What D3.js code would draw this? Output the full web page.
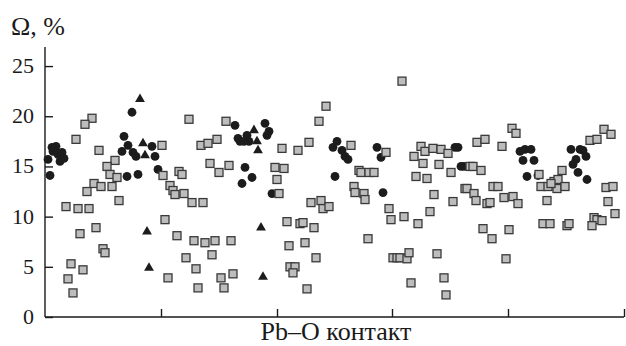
<!DOCTYPE html>
<html>
<head>
<meta charset="utf-8">
<script src="https://cdn.jsdelivr.net/npm/d3@7"></script>
<style>
  body { margin: 0; background: #fff; }
</style>
</head>
<body>
<div id="chart"></div>
<script>
// x = position along the contact axis (arbitrary units), y = Omega, %
const circleX = [3, 5, 7, 11, 8, 13, 17, 15, 19,
  87, 79, 83, 88, 91, 77, 82, 93, 107, 110, 113,
  190, 193, 195, 202, 204, 199, 220, 224, 222, 200, 207, 197, 227,
  288, 292, 297, 300, 303, 290, 332, 336, 338,
  410, 413, 416, 419,
  475, 480, 486, 478, 489, 482, 493,
  526, 535, 538, 541, 531, 528, 533, 542];
const circleY = [15.7, 14.1, 16.9, 17.0, 16.5, 16.2, 16.4, 15.5, 15.8,
  20.4, 18.0, 17.1, 16.4, 16.0, 16.5, 14.0, 14.2, 17.0, 16.0, 14.7,
  19.1, 17.8, 17.5, 18.1, 17.5, 17.5, 19.3, 18.5, 18.1, 14.9, 13.9, 13.3, 12.3,
  16.9, 17.5, 16.6, 16.0, 15.7, 14.0, 16.9, 15.9, 12.4,
  16.9, 16.9, 15.0, 15.0,
  16.5, 16.7, 16.7, 15.6, 15.6, 14.0, 14.1,
  16.7, 16.7, 16.6, 16.0, 15.7, 15.2, 14.4, 13.7];

const triangleX = [95, 98, 100, 102, 104, 209, 212, 213, 216, 218];
const triangleY = [21.7, 17.3, 16.1, 8.5, 4.9, 18.6, 17.5, 16.6, 8.9, 4.0];

const squareX = [47, 40, 31, 54, 70, 62, 65, 72, 49, 56, 42, 67, 74, 21, 33, 44, 51, 35, 58, 60, 26, 38, 23, 28,
  117, 144, 181, 156, 163, 172, 165, 174, 184, 118, 134, 137, 125, 128, 130, 139, 147, 158, 120, 132,
  149, 160, 170, 186, 141, 167, 151, 123, 176, 188, 153, 179,
  237, 253, 264, 274, 281, 230, 239, 232, 234, 266, 276, 278, 284, 242, 255, 258, 269, 244, 260, 271,
  245, 250, 248, 262,
  357, 306, 341, 314, 316, 324, 329, 309, 310, 319, 320, 344, 346, 359, 323, 348, 352, 355, 362, 364,
  366, 369, 376, 380, 388, 396, 403, 378, 394, 406, 371, 382, 389, 408, 385, 373, 392, 399, 401,
  432, 440, 457, 467, 471, 425, 428, 436, 420, 422, 429, 431, 442, 445, 448, 453, 459, 468, 473,
  438, 464, 447, 461,
  494, 496, 503, 509, 513, 512, 517, 520, 506, 502, 498, 505, 522, 524,
  545, 552, 559, 566, 561, 568, 563, 570, 549, 552, 557, 547];
const squareY = [19.8, 19.2, 17.7, 16.6, 15.6, 15.0, 14.2, 13.9, 13.3, 13.0, 12.5, 13.0, 11.6, 11.0, 10.8, 10.8,
  8.9, 8.3, 6.8, 6.4, 5.3, 4.7, 3.8, 2.4,
  17.1, 19.7, 19.5, 17.1, 17.3, 17.7, 15.3, 14.4, 15.1, 14.1, 14.5, 14.2, 13.1, 12.6, 12.2, 12.3, 11.4, 11.4,
  9.7, 8.1, 7.6, 7.4, 7.6, 7.6, 5.9, 6.2, 4.8, 3.9, 3.9, 4.3, 2.9, 2.9,
  16.8, 16.6, 17.4, 19.5, 21.0, 14.9, 14.8, 13.7, 12.3, 11.4, 11.6, 10.8, 11.0, 9.5, 9.3, 9.4, 8.9, 7.1, 7.4,
  5.9, 5.0, 5.0, 4.4, 2.8,
  23.5, 17.1, 16.4, 14.6, 14.4, 14.4, 14.4, 13.0, 12.4, 12.3, 11.7, 10.8, 9.7, 10.0, 7.8, 5.9, 5.9, 5.9, 5.8, 6.4,
  3.4, 16.0, 17.0, 16.5, 16.8, 16.7, 16.3, 15.3, 15.2, 14.4, 14.0, 13.8, 12.2, 11.5, 10.5, 9.3, 6.3, 3.9, 2.2,
  17.4, 17.7, 17.0, 18.8, 18.3, 15.0, 15.0, 14.6, 12.8, 12.8, 12.3, 11.6, 11.3, 11.4, 13.0, 13.0, 11.9, 12.0, 11.3,
  8.8, 8.7, 7.8, 5.8,
  14.2, 13.0, 13.0, 13.5, 13.7, 12.8, 14.6, 13.0, 13.3, 11.6, 9.3, 9.3, 9.1, 9.3,
  17.6, 17.7, 18.7, 18.2, 12.9, 13.0, 11.5, 10.3, 9.9, 9.7, 9.6, 9.1];

const yTicks = [0, 5, 10, 15, 20, 25];
const xTicks = [116, 232, 347, 463, 579];

const width = 626;
const height = 346;
const margin = { left: 45, right: 2, top: 47, bottom: 29 };
const serif = "'Liberation Serif', 'Times New Roman', 'DejaVu Serif', serif";

const svg = d3.select('#chart')
  .append('svg')
  .attr('width', width)
  .attr('height', height);

const x = d3.scaleLinear()
  .domain([0, 579])
  .range([margin.left, width - margin.right]);

const y = d3.scaleLinear()
  .domain([0, 26.9])
  .range([height - margin.bottom, margin.top]);

// axes, ticks pointing inside
const yAxis = svg.append('g')
  .attr('transform', `translate(${margin.left},0)`)
  .call(d3.axisRight(y).tickValues(yTicks).tickSize(8).tickFormat(''));
yAxis.select('.domain').attr('d', `M0,${y(0)}V${margin.top}`);

const xAxis = svg.append('g')
  .attr('transform', `translate(0,${height - margin.bottom})`)
  .call(d3.axisTop(x).tickValues(xTicks).tickSize(8).tickFormat(''));
xAxis.select('.domain').attr('d', `M${margin.left},0H${x(579)}`);

svg.selectAll('.domain, .tick line')
  .attr('stroke', '#1a1a1a')
  .attr('stroke-width', 1.4);

svg.selectAll('.ylab')
  .data(yTicks)
  .enter()
  .append('text')
  .attr('x', 34)
  .attr('y', d => y(d) + 7)
  .attr('text-anchor', 'end')
  .attr('font-family', serif)
  .attr('fill', '#1a1a1a')
  .style('font-size', '22px')
  .text(d => d);

svg.append('text')
  .attr('x', 11)
  .attr('y', 35)
  .attr('font-family', serif)
  .attr('fill', '#1a1a1a')
  .style('font-size', '26px')
  .text('Ω, %');

svg.append('text')
  .attr('x', 336)
  .attr('y', 340)
  .attr('text-anchor', 'middle')
  .attr('font-family', serif)
  .attr('fill', '#1a1a1a')
  .style('font-size', '26px')
  .text('Pb–O контакт');

// markers
const circles = circleX.map((d, i) => ({ x: d, y: circleY[i] }));
const triangles = triangleX.map((d, i) => ({ x: d, y: triangleY[i] }));
const squares = squareX.map((d, i) => ({ x: d, y: squareY[i] }));

svg.selectAll('.circ')
  .data(circles)
  .enter()
  .append('circle')
  .attr('cx', d => x(d.x))
  .attr('cy', d => y(d.y))
  .attr('r', 4.4)
  .attr('fill', '#1c1c1c');

svg.selectAll('.tri')
  .data(triangles)
  .enter()
  .append('path')
  .attr('d', d3.symbol().type(d3.symbolTriangle).size(42))
  .attr('transform', d => `translate(${x(d.x)},${y(d.y)})`)
  .attr('fill', '#1c1c1c');

svg.selectAll('.sq')
  .data(squares)
  .enter()
  .append('rect')
  .attr('x', d => x(d.x) - 4)
  .attr('y', d => y(d.y) - 4)
  .attr('width', 8)
  .attr('height', 8)
  .attr('fill', '#bdbdbd')
  .attr('stroke', '#3a3a3a')
  .attr('stroke-width', 1.3);
</script>
</body>
</html>
